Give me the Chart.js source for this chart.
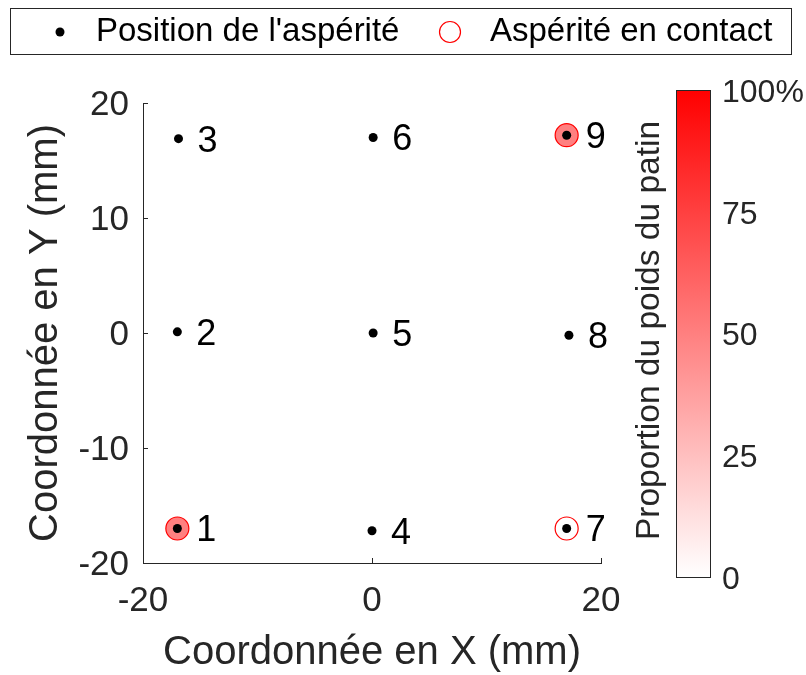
<!DOCTYPE html>
<html lang="fr">
<head>
<meta charset="UTF-8" />
<title>Position des aspérités</title>
<script src="https://cdn.jsdelivr.net/npm/chart.js"></script>
<style>
    body { margin: 0; background: #fff; }
    #wrap { width: 806px; height: 675px; }
</style>
</head>
<body>
<div id="wrap"><canvas id="chart" width="806" height="675"></canvas></div>
<script>
// Asperity positions (mm)
const asperityIds = ["1", "2", "3", "4", "5", "6", "7", "8", "9"];
const asperityX = [-17, -17, -16.9, 0, 0.1, 0.1, 17, 17.2, 17];
const asperityY = [-17, 0.1, 16.9, -17.2, 0, 17, -17, -0.2, 17.2];

// Asperities in contact and their share of the pad weight (%)
const contactIds = ["1", "7", "9"];
const contactX = [-17, 17, 17];
const contactY = [-17, -17, 17.2];
const contactLoad = [50, 0, 50];

const xTicks = [-20, 0, 20];
const yTicks = [-20, -10, 0, 10, 20];
const colorbarTicks = [0, 25, 50, 75, 100];

const FONT = "'Liberation Sans', Arial, Helvetica, sans-serif";
const AXIS_COLOR = "#262626";

// white -> red depending on the load share
function loadColor(v) {
    const t = Math.max(0, Math.min(1, v / 100));
    const gb = Math.round(255 * (1 - t));
    return `rgb(255,${gb},${gb})`;
}

const asperityData = asperityX.map((x, i) => ({ x: x, y: asperityY[i], id: asperityIds[i] }));
const contactData = contactX.map((x, i) => ({ x: x, y: contactY[i], id: contactIds[i] }));

// legend drawn like the matlab box at the top
const legendBox = {
    id: "legendBox",
    afterDraw(chart) {
        const ctx = chart.ctx;
        ctx.save();
        ctx.strokeStyle = AXIS_COLOR;
        ctx.lineWidth = 1;
        ctx.strokeRect(10.5, 8.5, 781, 46);
        const cy = 32;
        ctx.fillStyle = "#000";
        ctx.beginPath();
        ctx.arc(60, cy, 4.5, 0, Math.PI * 2);
        ctx.fill();
        ctx.strokeStyle = "#ff0000";
        ctx.lineWidth = 1.2;
        ctx.beginPath();
        ctx.arc(450, cy, 10.5, 0, Math.PI * 2);
        ctx.stroke();
        ctx.font = "33px " + FONT;
        ctx.fillStyle = "#000";
        ctx.textBaseline = "middle";
        ctx.textAlign = "left";
        ctx.fillText(chart.data.datasets[0].label, 96, cy);
        ctx.fillText(chart.data.datasets[1].label, 490, cy);
        ctx.restore();
    }
};

// asperity numbers next to each point
const pointLabels = {
    id: "pointLabels",
    afterDatasetsDraw(chart) {
        const ctx = chart.ctx;
        const xs = chart.scales.x, ys = chart.scales.y;
        ctx.save();
        ctx.font = "36px " + FONT;
        ctx.fillStyle = "#000";
        ctx.textBaseline = "middle";
        ctx.textAlign = "left";
        asperityData.forEach((p) => {
            ctx.fillText(p.id, xs.getPixelForValue(p.x) + 19, ys.getPixelForValue(p.y) + 3);
        });
        ctx.restore();
    }
};

// inward tick marks
const innerTicks = {
    id: "innerTicks",
    afterDraw(chart) {
        const ctx = chart.ctx;
        const xs = chart.scales.x, ys = chart.scales.y;
        const a = chart.chartArea;
        ctx.save();
        ctx.strokeStyle = AXIS_COLOR;
        ctx.lineWidth = 1;
        ctx.beginPath();
        xTicks.forEach((v) => {
            const px = Math.round(xs.getPixelForValue(v)) + 0.5;
            ctx.moveTo(px, a.bottom);
            ctx.lineTo(px, a.bottom - 5);
        });
        yTicks.forEach((v) => {
            const py = Math.round(ys.getPixelForValue(v)) + 0.5;
            ctx.moveTo(a.left, py);
            ctx.lineTo(a.left + 5, py);
        });
        ctx.stroke();
        ctx.restore();
    }
};

// colour bar on the right
const colorbar = {
    id: "colorbar",
    afterDraw(chart) {
        const ctx = chart.ctx;
        const left = 676, right = 710, top = 90, bottom = 577;
        const yOf = (v) => bottom - (v / 100) * (bottom - top);
        ctx.save();
        const grad = ctx.createLinearGradient(0, bottom, 0, top);
        grad.addColorStop(0, loadColor(0));
        grad.addColorStop(1, loadColor(100));
        ctx.fillStyle = grad;
        ctx.fillRect(left, top, right - left, bottom - top);
        ctx.strokeStyle = AXIS_COLOR;
        ctx.lineWidth = 1;
        ctx.strokeRect(left + 0.5, top + 0.5, right - left, bottom - top);
        ctx.font = "32px " + FONT;
        ctx.fillStyle = AXIS_COLOR;
        ctx.textBaseline = "middle";
        ctx.textAlign = "left";
        colorbarTicks.forEach((v, i) => {
            const txt = i === colorbarTicks.length - 1 ? v + "%" : String(v);
            ctx.fillText(txt, 722, yOf(v) + 3);
        });
        ctx.translate(650, (top + bottom) / 2 - 3);
        ctx.rotate(-Math.PI / 2);
        ctx.textAlign = "center";
        ctx.font = "33.5px " + FONT;
        ctx.fillText("Proportion du poids du patin", 0, 0);
        ctx.restore();
    }
};

new Chart(document.getElementById("chart"), {
    type: "scatter",
    data: {
        datasets: [
            {
                label: "Position de l'aspérité",
                data: asperityData,
                pointRadius: 4.5,
                pointBackgroundColor: "#000",
                pointBorderWidth: 0,
                pointHoverRadius: 4.5
            },
            {
                label: "Aspérité en contact",
                data: contactData,
                pointRadius: 11.5,
                pointHoverRadius: 11.5,
                pointBackgroundColor: contactLoad.map(loadColor),
                pointBorderColor: "#ff0000",
                pointBorderWidth: 1.2
            }
        ]
    },
    options: {
        responsive: false,
        animation: false,
        layout: { padding: { left: 0, top: 103, right: 205, bottom: 0 } },
        plugins: {
            legend: { display: false },
            tooltip: { enabled: false }
        },
        scales: {
            x: {
                type: "linear",
                min: -20,
                max: 20,
                afterBuildTicks: (s) => { s.ticks = xTicks.map((v) => ({ value: v })); },
                afterFit: (s) => { s.height = 112; },
                grid: { display: false, drawTicks: false },
                border: { display: true, color: AXIS_COLOR, width: 1 },
                ticks: { padding: 17, color: AXIS_COLOR, maxRotation: 0, font: { family: FONT, size: 35 } },
                title: {
                    display: true,
                    text: "Coordonnée en X (mm)",
                    color: AXIS_COLOR,
                    font: { family: FONT, size: 40, lineHeight: 1 },
                    padding: { top: 0, bottom: 2 }
                }
            },
            y: {
                type: "linear",
                min: -20,
                max: 20,
                afterBuildTicks: (s) => { s.ticks = yTicks.map((v) => ({ value: v })); },
                afterFit: (s) => { s.width = 143; },
                grid: { display: false, drawTicks: false },
                border: { display: true, color: AXIS_COLOR, width: 1 },
                ticks: { padding: 14, labelOffset: 2, color: AXIS_COLOR, font: { family: FONT, size: 35 } },
                title: {
                    display: true,
                    text: "Coordonnée en Y (mm)",
                    color: AXIS_COLOR,
                    font: { family: FONT, size: 40, lineHeight: 1 },
                    padding: { top: 26, bottom: 0 }
                }
            }
        }
    },
    plugins: [legendBox, pointLabels, innerTicks, colorbar]
});
</script>
</body>
</html>
